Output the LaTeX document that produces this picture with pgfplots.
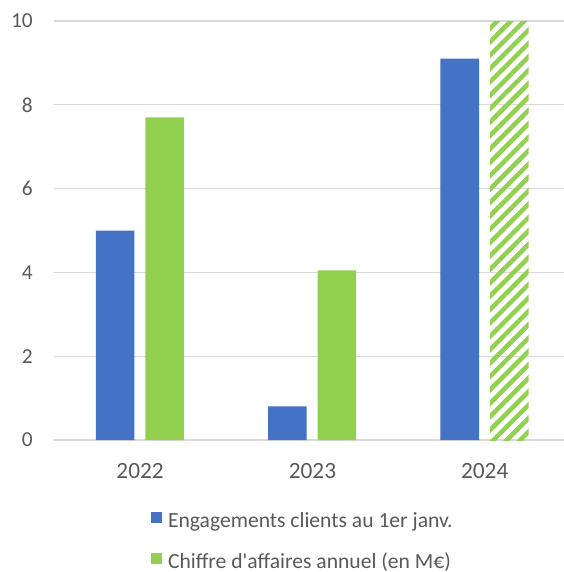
\documentclass[border=0pt]{standalone}
\usepackage{fontspec}
\setmainfont{Carlito}
\usepackage{pgfplots}
\pgfplotsset{compat=1.18}
\usetikzlibrary{patterns.meta}
\definecolor{cblue}{HTML}{4472C4}
\definecolor{cgreen}{HTML}{92D050}
\definecolor{cgrid}{HTML}{D9D9D9}
\definecolor{ctext}{HTML}{595959}
\begin{document}
\begin{tikzpicture}
\useasboundingbox (-40.5pt,-99pt) rectangle (382.5pt,330pt);
\begin{axis}[
  at={(0,0)}, anchor=south west,
  scale only axis, width=382.5pt, height=314.25pt,
  xmin=-0.5, xmax=2.46, ymin=0, ymax=10,
  ytick={0,2,4,6,8,10}, xtick={0,1,2}, xticklabels={2022,2023,2024},
  ymajorgrids, grid style={cgrid, line width=0.9pt},
  axis line style={draw=none},
  major tick length=0pt,
  /pgf/number format/assume math mode=true,
  yticklabel style={anchor=east, inner sep=0pt, xshift=-15.75pt, font=\fontsize{16}{19}\selectfont, text=ctext},
  xticklabel style={anchor=north, inner sep=0pt, yshift=-17.25pt, font=\fontsize{17.5}{21}\selectfont, text=ctext},
  ybar, bar width=28.9pt,
  clip=false,
  legend style={at={(0.1902,-0.1700)}, anchor=north west, draw=none, fill=none,
    inner sep=0pt, outer sep=0pt,
    font=\fontsize{16.2}{19}\selectfont, text=ctext,
    nodes={inner sep=0pt, text height=12pt, text depth=4pt},
    row sep=14.75pt},
  legend cell align=left,
  legend image code/.code={\fill[#1] (0pt,-1pt) rectangle (8.25pt,7.25pt); \path (12.75pt,0pt);},
]
\addplot[fill=cblue, draw=none, bar shift=-18.75pt] coordinates {(0,5.0) (1,0.8) (2,9.1)};
\addlegendentry{Engagements clients au 1er janv.}
\addplot[fill=cgreen, draw=none, bar shift=18.4pt] coordinates {(0,7.7) (1,4.05)};
\addlegendentry{Chiffre d\textquotesingle affaires annuel (en M€)}
\addplot[draw=none, pattern={Lines[angle=45,distance=7.1pt,line width=3.4pt]}, pattern color=cgreen, bar shift=18.4pt, forget plot] coordinates {(2,10)};
\end{axis}
\end{tikzpicture}
\end{document}
